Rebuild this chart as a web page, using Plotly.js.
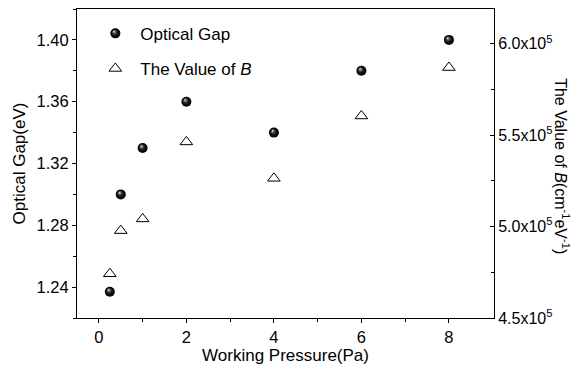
<!DOCTYPE html>
<html>
<head>
<meta charset="utf-8">
<script src="https://cdn.plot.ly/plotly-3.0.1.min.js"></script>
<style>html,body{margin:0;padding:0;background:#fff;}#chart{width:572px;height:371px;}</style>
</head>
<body>
<div id="chart"></div>
<script>
// Data
const pressure = [0.25, 0.5, 1, 2, 4, 6, 8];            // Working Pressure (Pa)
const opticalGap = [1.237, 1.300, 1.330, 1.360, 1.340, 1.380, 1.400]; // eV
const valueB = [4.742e5, 4.978e5, 5.042e5, 5.463e5, 5.264e5, 5.605e5, 5.870e5]; // cm^-1 eV^-1
const y2TickVals = [4.5e5, 5.0e5, 5.5e5, 6.0e5];
const y2TickText = ['4.5x10<sup>5</sup>', '5.0x10<sup>5</sup>', '5.5x10<sup>5</sup>', '6.0x10<sup>5</sup>'];
const y1TickVals = [1.24, 1.28, 1.32, 1.36, 1.40];
const y1TickText = ['1.24', '1.28', '1.32', '1.36', '1.40'];
const xTickVals = [0, 2, 4, 6, 8];

const fontFam = 'Liberation Sans, Arial, sans-serif';

const traces = [
  {
    x: pressure, y: opticalGap, type: 'scatter', mode: 'markers',
    name: 'Optical Gap', legendgroup: 'a', yaxis: 'y',
    marker: { symbol: 'circle', size: 10, color: '#ffffff',
      gradient: { type: 'radial', color: '#000000' },
      line: { width: 0 } }
  },
  {
    x: pressure, y: valueB, type: 'scatter', mode: 'markers',
    name: 'The Value of <i>B</i>', legendgroup: 'b', yaxis: 'y2',
    marker: { symbol: 'triangle-up-open', size: 11, color: '#000', line: { width: 1, color: '#000' } }
  }
];

const layout = {
  width: 572, height: 371,
  margin: { l: 77, r: 78, t: 9, b: 53 },
  paper_bgcolor: '#fff', plot_bgcolor: '#fff',
  font: { family: fontFam, size: 16.5, color: '#000' },
  showlegend: true,
  legend: {
    x: 0.032, y: 0.978, xanchor: 'left', yanchor: 'top',
    bgcolor: 'rgba(0,0,0,0)', borderwidth: 0,
    font: { family: fontFam, size: 17, color: '#000' },
    tracegroupgap: 10, itemwidth: 40
  },
  xaxis: {
    range: [-0.5, 9.03], showgrid: false, zeroline: false,
    showline: true, linecolor: '#000', linewidth: 1, mirror: true,
    ticks: 'outside', ticklen: 4, tickwidth: 1, tickcolor: '#000',
    tickvals: xTickVals,
    minor: { tickvals: [1, 3, 5, 7], ticks: 'outside', ticklen: 3, tickcolor: '#000', showgrid: false },
    tickfont: { size: 16.5 },
    title: { text: 'Working Pressure(Pa)', font: { size: 17 }, standoff: 4 }
  },
  yaxis: {
    range: [1.22, 1.42], showgrid: false, zeroline: false,
    showline: true, linecolor: '#000', linewidth: 1,
    ticks: 'outside', ticklen: 4, tickwidth: 1, tickcolor: '#000',
    tickvals: y1TickVals, ticktext: y1TickText,
    minor: { tickvals: [1.22, 1.26, 1.30, 1.34, 1.38, 1.42], ticks: 'outside', ticklen: 3, tickcolor: '#000', showgrid: false },
    tickfont: { size: 16.5 },
    title: { text: 'Optical Gap(eV)', font: { size: 17 }, standoff: 6 }
  },
  yaxis2: {
    overlaying: 'y', side: 'right',
    range: [4.5e5, 6.19e5], showgrid: false, zeroline: false,
    showline: true, linecolor: '#000', linewidth: 1,
    ticks: 'inside', ticklen: 4, tickwidth: 1, tickcolor: '#000',
    tickvals: y2TickVals, ticktext: y2TickText,
    minor: { tickvals: [4.75e5, 5.25e5, 5.75e5], ticks: 'inside', ticklen: 3, tickcolor: '#000', showgrid: false },
    tickfont: { size: 16 }
  },
  annotations: [{
    text: 'The Value of <i>B</i>(cm<sup>-1</sup>eV<sup>-1</sup>)',
    xref: 'paper', yref: 'paper', x: 1.164, y: 0.49,
    xanchor: 'center', yanchor: 'middle', textangle: 90, showarrow: false,
    font: { family: fontFam, size: 16, color: '#000' }
  }]
};

Plotly.newPlot('chart', traces, layout, { displayModeBar: false, staticPlot: true }).then(function () {
  // give the spheres an off-centre highlight, like the reference
  document.querySelectorAll('#chart radialGradient').forEach(function (g) {
    g.setAttribute('fx', '0.35');
    g.setAttribute('fy', '0.3');
    while (g.firstChild) g.removeChild(g.firstChild);
    [['0', '#f0f0f0'], ['0.3', '#555555'], ['0.6', '#111111'], ['1', '#000000']].forEach(function (s) {
      const st = document.createElementNS('http://www.w3.org/2000/svg', 'stop');
      st.setAttribute('offset', s[0]);
      st.setAttribute('stop-color', s[1]);
      g.appendChild(st);
    });
  });
});
</script>
</body>
</html>
